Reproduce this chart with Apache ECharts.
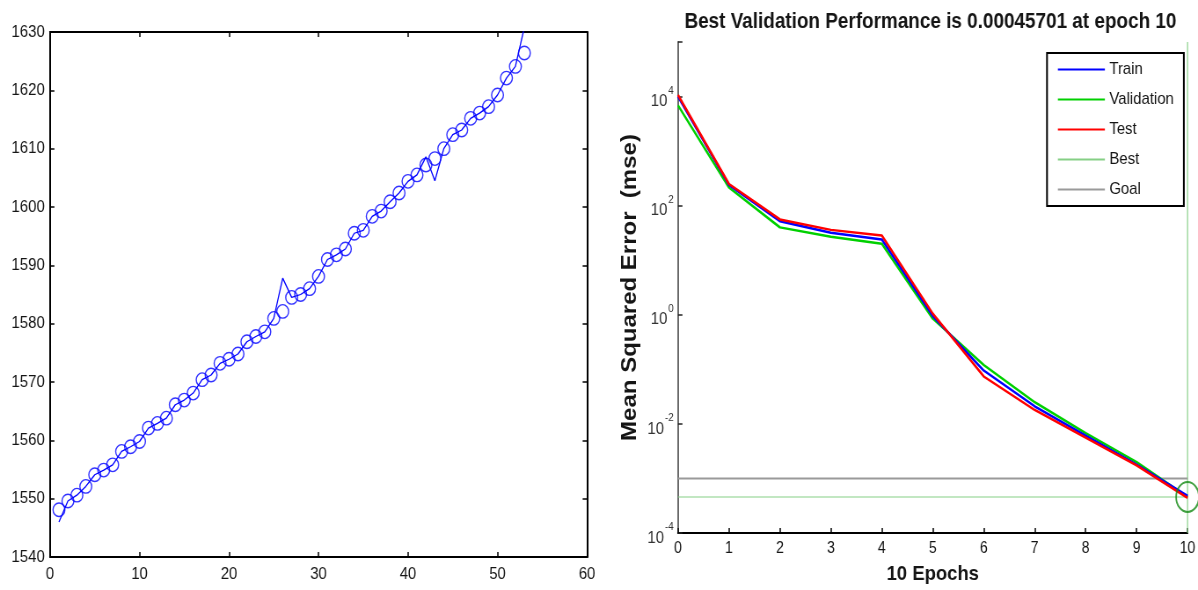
<!DOCTYPE html>
<html>
<head>
<meta charset="utf-8">
<script src="https://cdn.jsdelivr.net/npm/echarts@6/dist/echarts.min.js"></script>
<style>
  html, body { margin: 0; padding: 0; background: #fff; overflow: hidden; }
  /* figure is drawn wide and squeezed horizontally, like the exported MATLAB figure */
  #chart { width: 1362px; height: 590px; transform: scaleX(0.879589); transform-origin: 0 0; }
</style>
</head>
<body>
<div id="chart"></div>
<script>
// ---------- left panel: measured samples (circles) and network output (line) ----------
const sampleIndex = [1, 2, 3, 4, 5, 6, 7, 8, 9, 10, 11, 12, 13, 14, 15, 16, 17, 18, 19, 20,
  21, 22, 23, 24, 25, 26, 27, 28, 29, 30, 31, 32, 33, 34, 35, 36, 37, 38, 39, 40,
  41, 42, 43, 44, 45, 46, 47, 48, 49, 50, 51, 52, 53];
const measured = [1548.1, 1549.6, 1550.6, 1552.1, 1554.1, 1554.9, 1555.8, 1558.1, 1558.9, 1559.8,
  1562.1, 1562.9, 1563.8, 1566.1, 1566.9, 1568.1, 1570.4, 1571.2, 1573.2, 1573.9,
  1574.8, 1576.9, 1577.8, 1578.6, 1580.9, 1582.1, 1584.5, 1585.0, 1586.0, 1588.1,
  1591.0, 1591.8, 1592.8, 1595.5, 1596.0, 1598.4, 1599.3, 1600.9, 1602.4, 1604.4,
  1605.5, 1607.2, 1608.3, 1610.0, 1612.4, 1613.2, 1615.2, 1616.1, 1617.2, 1619.2,
  1622.1, 1624.1, 1626.4];
const predicted = [1546.0, 1549.6, 1550.6, 1552.1, 1554.1, 1554.9, 1555.8, 1558.1, 1558.9, 1559.8,
  1562.1, 1562.9, 1563.8, 1566.1, 1566.9, 1568.1, 1570.4, 1571.2, 1573.2, 1573.9,
  1574.8, 1576.9, 1577.8, 1578.6, 1580.9, 1587.8, 1584.5, 1585.0, 1586.0, 1588.1,
  1591.0, 1591.8, 1592.8, 1595.5, 1596.0, 1598.4, 1599.3, 1600.9, 1602.4, 1604.4,
  1605.5, 1608.6, 1604.5, 1610.0, 1612.4, 1613.2, 1615.2, 1616.1, 1617.2, 1619.2,
  1622.1, 1624.1, 1630.8];

// ---------- right panel: training performance per epoch ----------
const epochs = [0, 1, 2, 3, 4, 5, 6, 7, 8, 9, 10];
const trainPerf = [1.0e4, 240, 52, 32, 24, 0.95, 0.095, 0.021, 0.0061, 0.0018, 4.8e-4];
const validationPerf = [6.9e3, 215, 40, 27, 20, 0.85, 0.12, 0.025, 0.0068, 0.0020, 4.5701e-4];
const testPerf = [1.07e4, 250, 56, 36, 28.5, 1.05, 0.074, 0.018, 0.0056, 0.00174, 4.4e-4];
const bestEpoch = 10;
const bestPerf = 0.00045701;
const goalPerf = 0.001;
const perfLabelTicks = [1e-4, 1e-2, 1, 1e2, 1e4];
const perfTicks = [1e-4, 1e-2, 1, 1e2, 1e4, 1e5];
const perfMin = 1e-4, perfMax = 1e5;

// ---------- layout helpers ----------
const W = 1362;
const S = 1198 / W;
const px = v => v / S;          // horizontal figure coordinate -> chart coordinate
const FONT = '"Liberation Sans", Arial, Helvetica, sans-serif';
const INK = '#151515';

const pairs = (xs, ys) => xs.map((x, i) => [x, ys[i]]);

const frameAxis = (extra) => Object.assign({
  type: 'value',
  axisLine: { show: true, onZero: false, lineStyle: { color: '#000', width: 2 } },
  axisTick: { show: true, inside: true, length: 5, lineStyle: { color: '#000', width: 1.5 } },
  splitLine: { show: false },
  axisLabel: { show: false }
}, extra);

const chart = echarts.init(document.getElementById('chart'), null, { renderer: 'canvas' });

chart.setOption({
  animation: false,
  backgroundColor: '#fff',
  textStyle: { fontFamily: FONT },
  title: {
    text: 'Best Validation Performance is ' + bestPerf + ' at epoch ' + bestEpoch,
    left: px(926),
    top: 6,
    textAlign: 'center',
    textStyle: { fontSize: 21.5, fontWeight: 'bold', color: INK, fontFamily: FONT }
  },
  legend: {
    data: ['Train', 'Validation', 'Test', 'Best', 'Goal'],
    orient: 'vertical',
    left: px(1047),
    top: 53,
    padding: [8, px(10), 8, px(10)],
    itemWidth: px(47),
    itemHeight: 14,
    itemGap: 13,
    itemStyle: { opacity: 0 },
    backgroundColor: '#fff',
    borderColor: '#000',
    borderWidth: 2,
    borderRadius: 0,
    textStyle: { fontSize: 17, color: INK, fontFamily: FONT }
  },
  grid: [
    { left: px(50), top: 32, width: px(537), height: 525 },
    { left: px(678), top: 42, width: px(510), height: 493 }
  ],
  xAxis: [
    frameAxis({
      gridIndex: 0, position: 'bottom', min: 0, max: 60, interval: 10,
      axisLabel: { show: true, fontSize: 17, color: INK, margin: 9, fontFamily: FONT,
        formatter: v => String(v) }
    }),
    frameAxis({ gridIndex: 0, position: 'top', min: 0, max: 60, interval: 10 }),
    frameAxis({
      gridIndex: 1, position: 'bottom', min: 0, max: 10, interval: 1,
      axisLabel: { show: true, fontSize: 16, color: INK, margin: 8, fontFamily: FONT },
      name: epochs.length - 1 + ' Epochs',
      nameLocation: 'middle',
      nameGap: 31,
      nameTextStyle: { fontSize: 21, fontWeight: 'bold', color: INK, fontFamily: FONT }
    })
  ],
  yAxis: [
    frameAxis({
      gridIndex: 0, position: 'left', min: 1540, max: 1630, interval: 10,
      axisLabel: { show: true, fontSize: 17, color: INK, margin: 6, fontFamily: FONT,
        formatter: v => String(v) }
    }),
    frameAxis({ gridIndex: 0, position: 'right', min: 1540, max: 1630, interval: 10 }),
    {
      gridIndex: 1,
      type: 'log',
      logBase: 10,
      min: perfMin,
      max: perfMax,
      position: 'left',
      axisLine: { show: true, lineStyle: { color: '#6a6a6a', width: 2 } },
      axisTick: { show: true, inside: true, length: 5, customValues: perfTicks,
        lineStyle: { color: '#222', width: 1.5 } },
      splitLine: { show: false },
      axisLabel: {
        show: true,
        margin: 5,
        customValues: perfLabelTicks,
        formatter: v => '{b|10}{e|' + Math.round(Math.log10(v)) + '}',
        rich: {
          b: { fontSize: 17, color: '#333', padding: [10, 0, 0, 0], fontFamily: FONT },
          e: { fontSize: 11, color: '#333', verticalAlign: 'top', padding: [2, 0, 0, 1], fontFamily: FONT }
        }
      },
      name: 'Mean Squared Error  (mse)',
      nameLocation: 'middle',
      nameRotate: 90,
      nameGap: 42,
      nameTextStyle: { fontSize: 24, fontWeight: 'bold', color: INK, fontFamily: FONT }
    }
  ],
  series: [
    {
      name: 'Output',
      type: 'line',
      xAxisIndex: 0, yAxisIndex: 0,
      data: pairs(sampleIndex, predicted),
      symbol: 'none',
      clip: true,
      lineStyle: { color: '#0000ff', width: 1.3 },
      z: 2
    },
    {
      name: 'Target',
      type: 'scatter',
      xAxisIndex: 0, yAxisIndex: 0,
      data: pairs(sampleIndex, measured),
      symbol: 'circle',
      symbolSize: 13.5,
      itemStyle: { color: 'rgba(0,0,0,0)', borderColor: '#0000ff', borderWidth: 1.4 },
      z: 3
    },
    {
      name: 'Train',
      type: 'line',
      xAxisIndex: 2, yAxisIndex: 2,
      data: pairs(epochs, trainPerf),
      symbol: 'none',
      color: '#0000ff',
      lineStyle: { color: '#0000ff', width: 2.5 },
      z: 4
    },
    {
      name: 'Validation',
      type: 'line',
      xAxisIndex: 2, yAxisIndex: 2,
      data: pairs(epochs, validationPerf),
      symbol: 'none',
      color: '#00d000',
      lineStyle: { color: '#00d000', width: 2.5 },
      z: 3
    },
    {
      name: 'Test',
      type: 'line',
      xAxisIndex: 2, yAxisIndex: 2,
      data: pairs(epochs, testPerf),
      symbol: 'none',
      color: '#ff0000',
      lineStyle: { color: '#ff0000', width: 2.5 },
      z: 5
    },
    {
      name: 'Best',
      type: 'line',
      xAxisIndex: 2, yAxisIndex: 2,
      data: [[0, bestPerf], [bestEpoch, bestPerf], [bestEpoch, perfMin], [bestEpoch, perfMax]],
      symbol: 'none',
      color: '#86cf86',
      lineStyle: { color: '#86cf86', width: 1.2 },
      z: 1
    },
    {
      name: 'Goal',
      type: 'line',
      xAxisIndex: 2, yAxisIndex: 2,
      data: [[0, goalPerf], [epochs[epochs.length - 1], goalPerf]],
      symbol: 'none',
      color: '#9a9a9a',
      lineStyle: { color: '#9a9a9a', width: 2 },
      z: 1
    },
    {
      name: 'Best point',
      type: 'scatter',
      xAxisIndex: 2, yAxisIndex: 2,
      data: [[bestEpoch, bestPerf]],
      symbol: 'circle',
      symbolSize: [26, 30],
      clip: false,
      itemStyle: { color: 'rgba(0,0,0,0)', borderColor: '#138a13', borderWidth: 2 },
      z: 6
    }
  ]
});
</script>
</body>
</html>
